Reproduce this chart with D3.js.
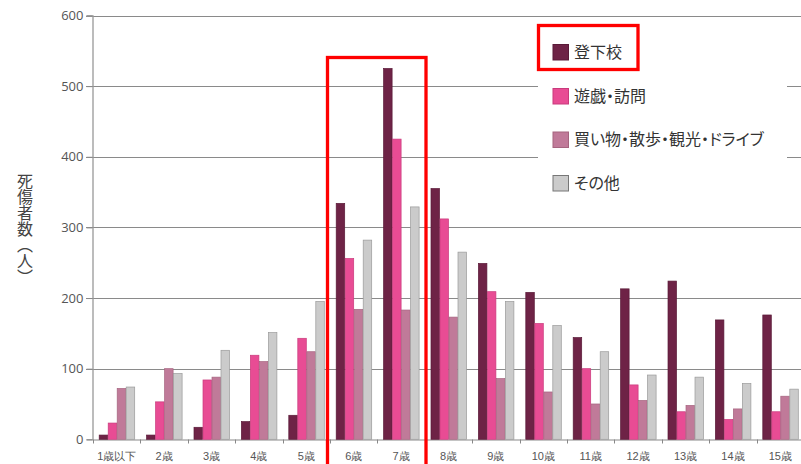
<!DOCTYPE html>
<html><head><meta charset="utf-8">
<script src="https://cdn.jsdelivr.net/npm/d3@7"></script>
<style>
html,body{margin:0;padding:0;background:#fff;}
svg{display:block;font-family:"Noto Sans CJK JP","Noto Sans",sans-serif;}
</style></head>
<body><svg id="c" width="801" height="464"></svg>
<script>
const categories = ["1歳以下","2歳","3歳","4歳","5歳","6歳","7歳","8歳","9歳","10歳","11歳","12歳","13歳","14歳","15歳"];
const seriesNames = ["登下校","遊戯・訪問","買い物・散歩・観光・ドライブ","その他"];
const commute  = [6, 6, 17, 25, 34, 334, 525, 355, 249, 208, 144, 213, 224, 169, 176];
const play     = [23, 53, 84, 119, 143, 256, 425, 312, 209, 164, 100, 77, 39, 28, 39];
const shopping = [72, 100, 88, 110, 124, 184, 183, 173, 86, 67, 50, 55, 48, 43, 61];
const other    = [74, 93, 126, 151, 195, 282, 329, 265, 195, 161, 124, 91, 88, 79, 71];
const yTicks = [0, 100, 200, 300, 400, 500, 600];
const yTitle = "死傷者数（人）";

const seriesData = [commute, play, shopping, other];
const fills = ["#6e2346", "#e84c94", "#c07a99", "#cbcbcb"];
const strokes = ["#5a1a38", "#c93a7c", "#a5647f", "#9a9a9a"];

const svg = d3.select("#c");
const x0 = d3.scaleBand().domain(categories).range([93, 804]).padding(0);
const x1 = d3.scaleBand().domain(d3.range(4)).range([5.7, x0.bandwidth() - 5.7]).padding(0);
const y = d3.scaleLinear().domain([0, 600]).range([439.3, 15.5]);

// grid lines
svg.append("g").selectAll("line").data(yTicks.filter(d => d > 0)).join("line")
  .attr("x1", 86).attr("x2", 801)
  .attr("y1", d => Math.round(y(d)) + 0.5).attr("y2", d => Math.round(y(d)) + 0.5)
  .attr("stroke", "#8a8a8a").attr("stroke-width", 1.2);

// y axis
const yAxis = svg.append("g").attr("transform", "translate(92.5,0)")
  .call(d3.axisLeft(y).tickValues(yTicks).tickSize(6).tickPadding(3));
yAxis.select(".domain").attr("stroke", "#999").attr("stroke-width", 1.3);
yAxis.selectAll(".tick line").attr("stroke", "#8a8a8a");
yAxis.selectAll("text").attr("fill", "#555").style("font-size", "13px")
  .style("font-family", "'Open Sans','Noto Sans',sans-serif");

// x axis
const xAxis = svg.append("g").attr("transform", "translate(0,439.5)")
  .call(d3.axisBottom(x0).tickSize(0).tickPadding(13));
xAxis.select(".domain").attr("stroke", "#8a8a8a").attr("stroke-width", 1.2);
xAxis.selectAll("text").attr("fill", "#555").style("font-size", "11px");
// boundary tick marks
svg.append("g").selectAll("line").data(categories).join("line")
  .attr("x1", d => Math.round(x0(d)) + 0.5).attr("x2", d => Math.round(x0(d)) + 0.5)
  .attr("y1", 439.5).attr("y2", 443.5).attr("stroke", "#888");

// bars
const g = svg.append("g");
categories.forEach((c, i) => {
  g.selectAll(null).data(seriesData.map((s, k) => ({k, v: s[i]}))).join("rect")
    .attr("x", d => x0(c) + x1(d.k) + 0.5)
    .attr("width", x1.bandwidth() - 0.5)
    .attr("y", d => y(d.v))
    .attr("height", d => y(0) - y(d.v))
    .attr("fill", d => fills[d.k])
    .attr("stroke", d => strokes[d.k]).attr("stroke-width", 0.7);
});

// legend
const lg = svg.append("g");
lg.append("rect").attr("x", 538).attr("y", 18).attr("width", 249).attr("height", 195).attr("fill", "#fff");
const rowY = [52, 96, 139.5, 183];
seriesNames.forEach((n, k) => {
  lg.append("rect").attr("x", 553).attr("y", rowY[k] - 7.5).attr("width", 15.5).attr("height", 15.5)
    .attr("fill", fills[k]).attr("stroke", k === 3 ? "#777" : strokes[k]).attr("stroke-width", 1);
  lg.append("text").attr("x", 574).attr("y", rowY[k]).attr("dy", "0.35em")
    .attr("fill", "#333").style("font-size", "16px").style("font-feature-settings", "'palt'").text(n);
});

// y axis title (vertical)
svg.append("text").attr("x", 25).attr("y", 173)
  .style("writing-mode", "vertical-rl").style("glyph-orientation-vertical", "0")
  .attr("fill", "#444").style("font-size", "16px")
  .text(yTitle);

// red highlight boxes
svg.append("rect").attr("x", 327.5).attr("y", 57.5).attr("width", 98.5).attr("height", 430)
  .attr("fill", "none").attr("stroke", "#ff0000").attr("stroke-width", 3.3);
svg.append("rect").attr("x", 538.5).attr("y", 25.5).attr("width", 99.5).attr("height", 44)
  .attr("fill", "none").attr("stroke", "#ff0000").attr("stroke-width", 3.3);
</script></body></html>
